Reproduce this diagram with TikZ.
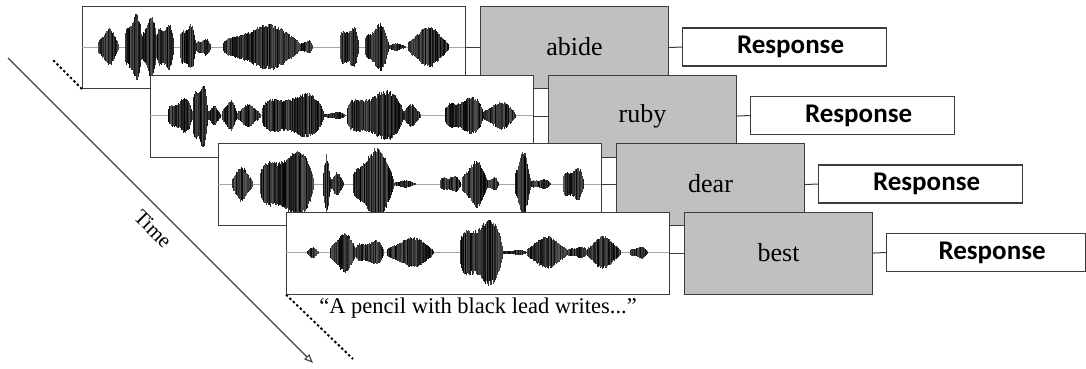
\documentclass[tikz,border=0pt]{standalone}
\usepackage{fontspec}
\setmainfont{Liberation Serif}
\newfontfamily\respfont{Carlito}
\usetikzlibrary{arrows.meta}
\definecolor{boxgray}{HTML}{C0C0C0}
\definecolor{edge}{HTML}{3C3C3C}
\newcommand\wvburst[3]{%
 \pgfmathtruncatemacro\wvN{max(1,(#2-#1)/0.6)}%
 \pgfmathsetmacro\wvD{180/(\wvN+1)}%
 \pgfmathsetmacro\wvW{(#2-#1)/\wvN}%
 \pgfmathsetmacro\wvP{90+180*rnd}%
 \foreach \wvk in {0,...,\wvN}{%
  \pgfmathsetmacro\wvX{#1+\wvW*\wvk}%
  \pgfmathsetmacro\wvE{#3*sin(\wvD*(\wvk+0.5))^0.4*(0.8+0.2*sin(\wvP+\wvk*\wvD*2.3))}%
  \pgfmathsetmacro\wvA{\wvE*(0.82+0.18*rnd)}%
  \pgfmathsetmacro\wvB{\wvE*(0.82+0.18*rnd)}%
  \pgfmathtruncatemacro\wvS{66+34*rnd}%
  \draw[black!\wvS, line width=0.95pt] (\wvX,-\wvA) -- (\wvX,\wvB);
 }}
\newcommand\wvbase{\draw[gray!70, line width=0.6pt] (0,0) -- (383,0);}
\tikzset{
 wavebox/.style={draw=edge, line width=1.1pt, fill=white, minimum width=383pt, minimum height=82pt, inner sep=0pt, anchor=north west},
 wordbox/.style={draw=edge, line width=1.1pt, fill=boxgray, minimum width=188pt, minimum height=82pt, inner sep=0pt, anchor=north west, font=\fontsize{26}{30}\selectfont},
 respbox/.style={draw=edge, line width=1.1pt, fill=white, minimum width=204pt, minimum height=38pt, inner sep=0pt, anchor=west, font=\respfont\bfseries\fontsize{27}{30}\selectfont},
 link/.style={draw=edge, line width=1pt},
 dotline/.style={draw=black, line width=1.9pt, dash pattern=on 2.4pt off 2.4pt}
}
\begin{document}
\begin{tikzpicture}[x=1pt,y=-1pt]
\pgfmathsetseed{11}
\useasboundingbox (0,0) rectangle (1086,368);
\fill[white] (0,0) rectangle (1086,368);
% time arrow
\coordinate (t0) at (8,58);
\coordinate (t1) at (313,363);
\draw[draw=black!75, line width=1.1pt, -{Triangle[open,length=9pt,width=7pt]}] (t0) -- (t1);
\node[rotate=-45, font=\fontsize{21}{24}\selectfont, inner sep=0pt] (time) at (153,229) {Time};
% row 1
\node[wavebox] (w1) at (82,6) {};
\coordinate (d1) at (52,59);
\draw[dotline] (w1.south west) -- (d1);
\begin{scope}[shift={(82,47)}]
\wvbase
\wvburst{16}{36}{20}
\wvburst{43}{60}{38}
\wvburst{60}{75}{34}
\wvburst{75}{91}{30}
\wvburst{98}{113}{28}
\wvburst{114}{128}{10}
\wvburst{141}{218}{24}
\wvburst{218}{230}{8}
\wvburst{258}{276}{26}
\wvburst{283}{306}{26}
\wvburst{306}{323}{4}
\wvburst{326}{366}{21}
\end{scope}
\node[wordbox] (g1) at (480,6) {\raisebox{2pt}{abide}};
\node[respbox] (r1) at (682,47) {\hspace*{12pt}Response};
\draw[link] (w1.east) -- (g1.west);
\draw[link] (g1.east) -- (r1.west);
% row 2
\node[wavebox] (w2) at (150,74.5) {};
\begin{scope}[shift={(150,115.5)}]
\wvbase
\wvburst{18}{42}{20}
\wvburst{43}{57}{40}
\wvburst{57}{70}{10}
\wvburst{72}{87}{16}
\wvburst{87}{110}{12}
\wvburst{112}{173}{27}
\wvburst{173}{195}{4}
\wvburst{197}{253}{29}
\wvburst{253}{270}{12}
\wvburst{295}{333}{22}
\wvburst{333}{365}{15}
\end{scope}
\node[wordbox] (g2) at (548,74.5) {\raisebox{2pt}{ruby}};
\node[respbox] (r2) at (750,115.5) {\hspace*{12pt}Response};
\draw[link] (w2.east) -- (g2.west);
\draw[link] (g2.east) -- (r2.west);
% row 3
\node[wavebox] (w3) at (218,143) {};
\begin{scope}[shift={(218,184)}]
\wvbase
\wvburst{14}{34}{18}
\wvburst{42}{95}{39}
\wvburst{105}{112}{30}
\wvburst{112}{125}{12}
\wvburst{135}{175}{38}
\wvburst{175}{197}{4}
\wvburst{222}{242}{10}
\wvburst{244}{269}{25}
\wvburst{269}{280}{8}
\wvburst{297}{312}{35}
\wvburst{312}{332}{6}
\wvburst{345}{365}{20}
\end{scope}
\node[wordbox] (g3) at (616,143) {\raisebox{2pt}{dear}};
\node[respbox] (r3) at (818,184) {\hspace*{12pt}Response};
\draw[link] (w3.east) -- (g3.west);
\draw[link] (g3.east) -- (r3.west);
% row 4
\node[wavebox] (w4) at (286,211.5) {};
\coordinate (d4) at (353,359);
\draw[dotline] (w4.south west) -- (d4);
\begin{scope}[shift={(286,252.5)}]
\wvbase
\wvburst{21}{32}{6}
\wvburst{44}{70}{21}
\wvburst{70}{97}{15}
\wvburst{101}{147}{16}
\wvburst{174}{216}{39}
\wvburst{216}{241}{3}
\wvburst{241}{281}{17}
\wvburst{281}{301}{7}
\wvburst{301}{334}{17}
\wvburst{344}{361}{7}
\end{scope}
\node[wordbox] (g4) at (684,211.5) {\raisebox{2pt}{best}};
\node[respbox, minimum width=199pt] (r4) at (886,252.5) {\hspace*{12pt}Response};
\draw[link] (w4.east) -- (g4.west);
\draw[link] (g4.east) -- (r4.west);
\node[anchor=base, font=\fontsize{22.5}{26}\selectfont] (cap) at (478,313) {``A pencil with black lead writes...''};
\end{tikzpicture}
\end{document}
